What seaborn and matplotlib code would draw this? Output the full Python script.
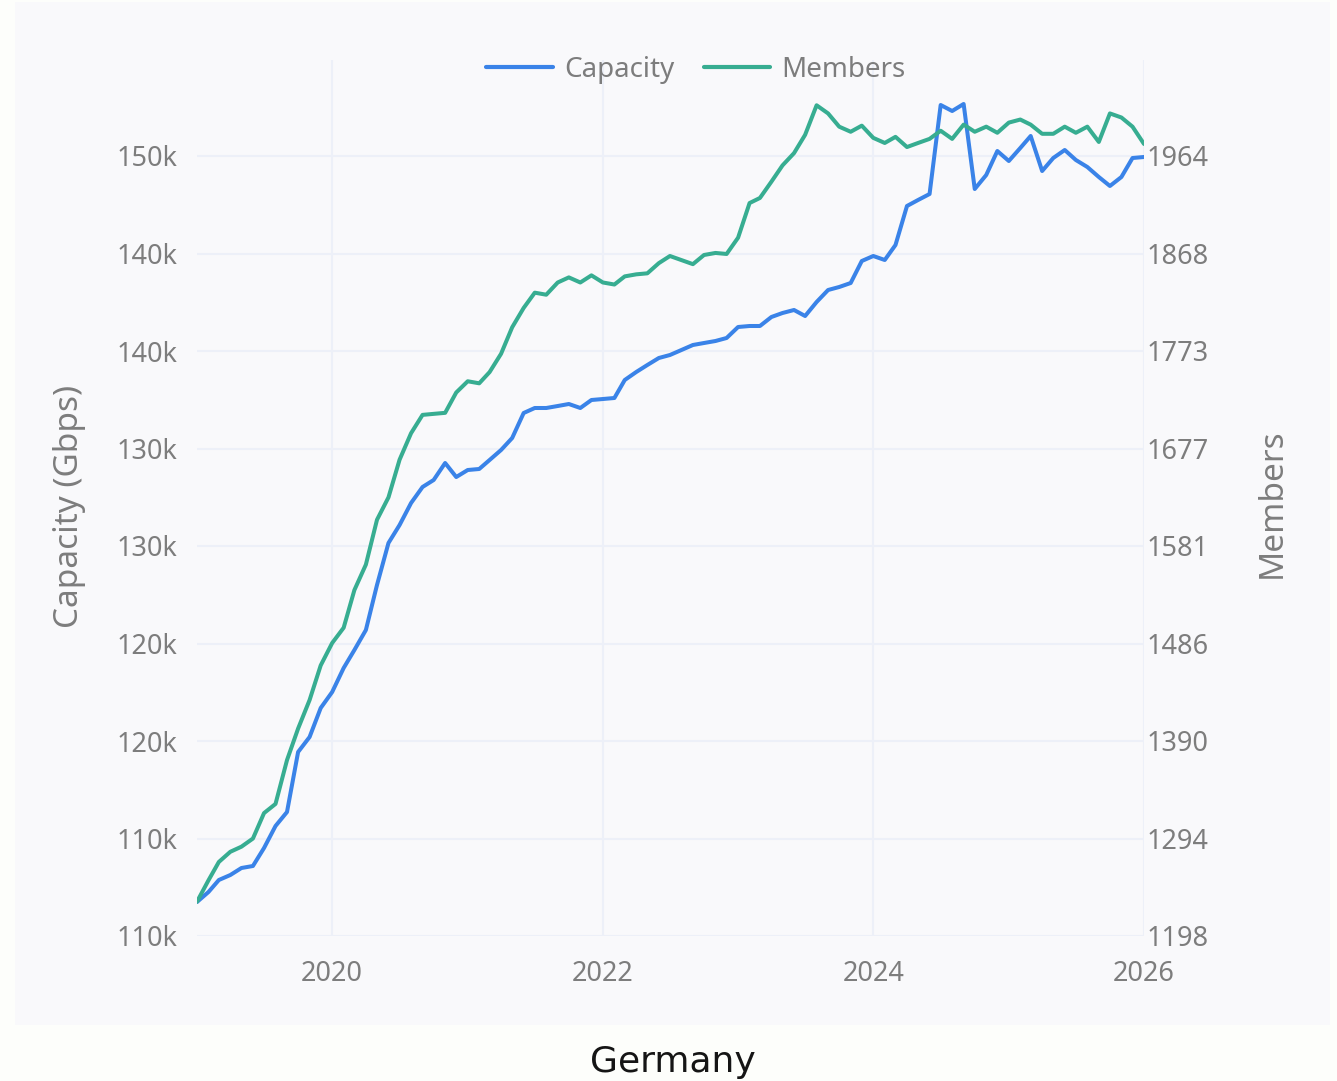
import matplotlib
matplotlib.use("Agg")
import matplotlib.pyplot as plt
import matplotlib.dates as mdates
from matplotlib.patches import Rectangle
from matplotlib.lines import Line2D
import numpy as np
import pandas as pd
import seaborn as sns

# monthly data, Jan 2019 .. Jan 2026
months = pd.date_range("2019-01-01", periods=85, freq="MS")

capacity = [
    111244, 111756, 112372, 112628, 112987, 113090, 114013, 115141, 115859, 118936,
    119705, 121192, 122013, 123244, 124167, 125192, 127500, 129654, 130577, 131705,
    132526, 132885, 133756, 133038, 133397, 133449, 133910, 134423, 135038, 136320,
    136577, 136577, 136679, 136782, 136577, 136987, 137038, 137090, 138013, 138423,
    138782, 139141, 139295, 139551, 139808, 139910, 140013, 140167, 140731, 140782,
    140782, 141244, 141449, 141603, 141295, 142013, 142628, 142782, 142987, 144115,
    144372, 144167, 144936, 146936, 147244, 147551, 152115, 151808, 152167, 147808,
    148526, 149756, 149244, 149910, 150526, 148731, 149397, 149808, 149295, 148936,
    148423, 147962, 148423, 149397, 149449,
]

members = [
    1232, 1253, 1271, 1281, 1286, 1294, 1319, 1328, 1371, 1402,
    1430, 1464, 1486, 1501, 1538, 1563, 1607, 1629, 1666, 1692,
    1710, 1711, 1712, 1732, 1743, 1741, 1752, 1770, 1796, 1815,
    1830, 1828, 1840, 1845, 1840, 1847, 1840, 1838, 1846, 1848,
    1849, 1859, 1866, 1862, 1858, 1867, 1869, 1868, 1884, 1918,
    1923, 1939, 1955, 1967, 1985, 2014, 2006, 1993, 1988, 1994,
    1982, 1977, 1983, 1973, 1977, 1981, 1989, 1981, 1995, 1988,
    1993, 1987, 1997, 2000, 1995, 1986, 1986, 1993, 1987, 1993,
    1978, 2006, 2002, 1993, 1976,
]

capacity_ticklabels = ["110k", "110k", "120k", "120k", "130k", "130k", "140k", "140k", "150k"]
members_ticklabels = ["1198", "1294", "1390", "1486", "1581", "1677", "1773", "1868", "1964"]
year_ticks = ["2020", "2022", "2024", "2026"]

df = pd.DataFrame({"month": months, "Capacity": capacity, "Members": members})

sns.set_style("white")
plt.rcParams["font.family"] = ["Noto Sans", "DejaVu Sans"]

blue = "#3a83e8"
green = "#37ad91"
grey = "#7d7d7d"
gridc = "#edf0f8"
panel = "#f9f9fb"

fig = plt.figure(figsize=(13.37, 10.81), dpi=100, facecolor="#fdfefb")
fig.patches.append(Rectangle((15 / 1337, 1 - 1025 / 1081), 1315 / 1337, 1023 / 1081,
                             transform=fig.transFigure, facecolor=panel,
                             edgecolor="none", zorder=-1))

ax = fig.add_axes([197 / 1337, 1 - 936 / 1081, 947 / 1337, 876 / 1081])
ax.set_facecolor("none")
ax2 = ax.twinx()

sns.lineplot(data=df, x="month", y="Capacity", ax=ax, color=blue, linewidth=2.9, legend=False)
sns.lineplot(data=df, x="month", y="Members", ax=ax2, color=green, linewidth=2.9, legend=False)

# axis ranges (8 aligned intervals on both sides)
cap_lo, cap_hi = 109500, 149500
mem_lo, mem_hi = 1198.3, 1964.2
ax.set_ylim(cap_lo, cap_lo + (cap_hi - cap_lo) * 876 / 780)
ax2.set_ylim(mem_lo, mem_lo + (mem_hi - mem_lo) * 876 / 780)
ax.set_xlim(months[0], months[-1])

ax.set_yticks(np.linspace(cap_lo, cap_hi, 9))
ax.set_yticklabels(capacity_ticklabels)
ax2.set_yticks(np.linspace(mem_lo, mem_hi, 9))
ax2.set_yticklabels(members_ticklabels)

ax.set_xticks([pd.Timestamp(f"{y}-01-01") for y in year_ticks])
ax.xaxis.set_major_formatter(mdates.DateFormatter("%Y"))

for a in (ax, ax2):
    for s in a.spines.values():
        s.set_visible(False)

ax.grid(True, color=gridc, linewidth=1.5)
ax2.grid(False)
ax.tick_params(axis="y", length=0, pad=14, labelsize=19.5, labelcolor=grey)
ax.tick_params(axis="x", length=8, width=1.5, color=gridc, pad=9, labelsize=19.5, labelcolor=grey)
ax2.tick_params(axis="y", length=0, pad=2, labelsize=19.5, labelcolor=grey)

ax.set_xlabel("")
ax.set_ylabel("Capacity (Gbps)", fontsize=24, color=grey)
ax.yaxis.set_label_coords(-0.117, 0.49)
ax2.set_ylabel("Members", fontsize=24, color=grey)
ax2.yaxis.set_label_coords(1.118, 0.494)

handles = [Line2D([], [], color=blue, linewidth=3), Line2D([], [], color=green, linewidth=3)]
fig.legend(handles, ["Capacity", "Members"], loc="center",
           bbox_to_anchor=(696 / 1337, 1 - 70 / 1081), ncol=2, frameon=False,
           fontsize=20, labelcolor=grey, handlelength=2.4, handletextpad=0.4,
           columnspacing=1.05)

fig.text(673 / 1337, 1 - 1062 / 1081, "Germany", ha="center", va="center",
         fontsize=26, color="#151515", family=["DejaVu Sans"])

fig.savefig("out.png", dpi=100, facecolor=fig.get_facecolor())
